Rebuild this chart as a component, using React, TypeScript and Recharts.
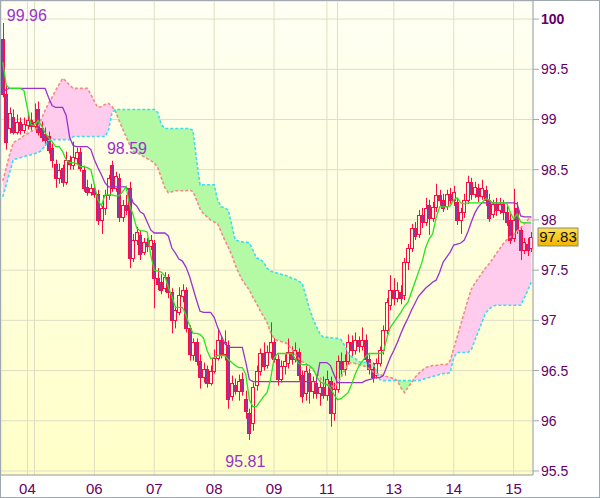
import { ComposedChart, Bar, Line, Area, XAxis, YAxis, CartesianGrid, ReferenceLine, ReferenceDot } from 'recharts';

// open, high, low, close per bar
const candles: number[][] = [
  [99.80, 99.96, 99.22, 99.25], [99.25, 99.35, 98.70, 98.78], [98.92, 99.12, 98.86, 99.06], [99.02, 99.10, 98.85, 98.88], [98.88, 99.05, 98.85, 98.98],
  [98.98, 99.02, 98.85, 98.90], [98.90, 99.02, 98.86, 98.96], [98.95, 99.06, 98.90, 99.00], [99.00, 99.07, 98.88, 98.94], [98.94, 99.16, 98.90, 98.98],
  [99.10, 99.18, 98.84, 98.88], [98.92, 98.98, 98.78, 98.83], [98.86, 98.92, 98.74, 98.80], [98.84, 98.88, 98.66, 98.70], [98.72, 98.76, 98.52, 98.60],
  [98.56, 98.60, 98.32, 98.42], [98.42, 98.56, 98.36, 98.50], [98.52, 98.55, 98.33, 98.38], [98.38, 98.68, 98.35, 98.60], [98.60, 98.64, 98.50, 98.56],
  [98.55, 98.78, 98.50, 98.63], [98.62, 98.72, 98.55, 98.68], [98.68, 98.72, 98.48, 98.52], [98.50, 98.54, 98.28, 98.32], [98.33, 98.40, 98.24, 98.28],
  [98.28, 98.36, 98.24, 98.32], [98.32, 98.35, 98.22, 98.26], [98.26, 98.30, 97.95, 98.00], [98.00, 98.14, 97.86, 98.12], [98.12, 98.30, 98.05, 98.25],
  [98.25, 98.45, 98.20, 98.42], [98.55, 98.59, 98.28, 98.32], [98.32, 98.48, 98.28, 98.44], [98.42, 98.46, 97.98, 98.03], [98.03, 98.20, 97.98, 98.15],
  [98.15, 98.25, 98.05, 98.10], [98.32, 98.38, 97.52, 97.62], [97.62, 97.86, 97.58, 97.80], [97.80, 97.93, 97.75, 97.88], [97.85, 97.90, 97.60, 97.66],
  [97.68, 97.82, 97.65, 97.78], [97.78, 97.82, 97.68, 97.74], [97.74, 97.85, 97.70, 97.80], [97.77, 97.80, 97.12, 97.42], [97.42, 97.52, 97.30, 97.36],
  [97.38, 97.46, 97.26, 97.30], [97.32, 97.48, 97.28, 97.43], [97.43, 97.46, 97.22, 97.28], [97.28, 97.32, 96.87, 97.00], [97.00, 97.14, 96.92, 97.10],
  [97.08, 97.33, 97.05, 97.25], [97.24, 97.36, 97.18, 97.30], [97.30, 97.33, 96.88, 96.92], [96.92, 96.95, 96.60, 96.66], [96.65, 96.82, 96.60, 96.78],
  [96.78, 96.82, 96.55, 96.60], [96.60, 96.66, 96.32, 96.44], [96.44, 96.58, 96.38, 96.52], [96.52, 96.55, 96.33, 96.38], [96.38, 96.55, 96.35, 96.50],
  [96.50, 96.71, 96.47, 96.63], [96.63, 96.92, 96.60, 96.80], [96.80, 96.84, 96.62, 96.66], [96.66, 96.90, 96.60, 96.78], [96.75, 96.80, 96.12, 96.22],
  [96.25, 96.45, 96.20, 96.38], [96.36, 96.42, 96.26, 96.30], [96.30, 96.46, 96.20, 96.40], [96.42, 96.48, 96.25, 96.30], [96.22, 96.30, 96.02, 96.10],
  [96.08, 96.12, 95.81, 95.88], [95.98, 96.38, 95.90, 96.34], [96.36, 96.55, 96.30, 96.50], [96.50, 96.72, 96.45, 96.67], [96.67, 96.78, 96.50, 96.55],
  [96.56, 96.75, 96.52, 96.68], [96.68, 96.98, 96.62, 96.78], [96.78, 96.82, 96.58, 96.62], [96.62, 96.66, 96.35, 96.42], [96.42, 96.60, 96.38, 96.55],
  [96.55, 96.66, 96.46, 96.60], [96.58, 96.82, 96.52, 96.68], [96.68, 96.74, 96.56, 96.62], [96.62, 96.78, 96.58, 96.70], [96.68, 96.72, 96.40, 96.46],
  [96.46, 96.50, 96.18, 96.25], [96.28, 96.55, 96.20, 96.50], [96.48, 96.52, 96.17, 96.30], [96.30, 96.44, 96.22, 96.40], [96.38, 96.46, 96.22, 96.28],
  [96.28, 96.40, 96.15, 96.34], [96.34, 96.44, 96.22, 96.26], [96.26, 96.50, 96.20, 96.42], [96.40, 96.44, 95.94, 96.08], [96.08, 96.38, 96.00, 96.32],
  [96.32, 96.65, 96.28, 96.60], [96.60, 96.68, 96.46, 96.52], [96.52, 96.66, 96.45, 96.60], [96.60, 96.86, 96.56, 96.78], [96.78, 96.85, 96.64, 96.70],
  [96.70, 96.88, 96.66, 96.80], [96.80, 96.84, 96.68, 96.74], [96.74, 96.93, 96.70, 96.80], [96.80, 96.86, 96.58, 96.62], [96.62, 96.66, 96.46, 96.52],
  [96.52, 96.58, 96.38, 96.44], [96.46, 96.62, 96.42, 96.58], [96.58, 96.74, 96.54, 96.70], [96.70, 96.95, 96.66, 96.90], [96.90, 97.22, 96.86, 97.18],
  [97.15, 97.45, 97.10, 97.30], [97.30, 97.42, 97.15, 97.22], [97.22, 97.38, 97.18, 97.30], [97.28, 97.35, 97.16, 97.22], [97.25, 97.62, 97.20, 97.58],
  [97.58, 97.76, 97.50, 97.72], [97.72, 97.96, 97.68, 97.92], [97.92, 97.98, 97.80, 97.84], [97.86, 98.10, 97.82, 98.05], [98.05, 98.12, 97.92, 97.98],
  [97.98, 98.22, 97.94, 98.12], [98.15, 98.20, 97.85, 98.02], [98.02, 98.18, 97.98, 98.13], [98.13, 98.36, 98.08, 98.25], [98.25, 98.30, 98.14, 98.20],
  [98.20, 98.26, 98.08, 98.12], [98.14, 98.30, 98.10, 98.26], [98.26, 98.32, 98.16, 98.20], [98.20, 98.34, 98.14, 98.28], [98.18, 98.22, 97.95, 98.00],
  [98.00, 98.12, 97.86, 98.08], [98.08, 98.26, 98.02, 98.20], [98.20, 98.44, 98.16, 98.38], [98.38, 98.42, 98.20, 98.26], [98.26, 98.38, 98.22, 98.33],
  [98.32, 98.36, 98.18, 98.24], [98.24, 98.40, 98.20, 98.32], [98.30, 98.34, 98.14, 98.20], [98.20, 98.26, 97.98, 98.02], [98.06, 98.20, 98.02, 98.16],
  [98.16, 98.22, 98.04, 98.10], [98.10, 98.22, 98.06, 98.16], [98.16, 98.20, 98.00, 98.08], [98.08, 98.14, 97.94, 97.98], [98.00, 98.06, 97.76, 97.80],
  [97.82, 98.31, 97.78, 98.00], [98.12, 98.18, 97.86, 97.90], [97.90, 97.94, 97.60, 97.70], [97.70, 97.82, 97.66, 97.78], [97.76, 97.82, 97.64, 97.70],
  [97.72, 97.88, 97.68, 97.83],
];

const tenkan = [
  99.57, 99.34, 99.31, 99.31, 99.31, 99.31, 99.29, 99.11, 98.95, 98.94,
  98.99, 98.94, 98.87, 98.82, 98.78, 98.73, 98.73, 98.68, 98.60, 98.57,
  98.57, 98.56, 98.53, 98.53, 98.52, 98.50, 98.35, 98.20, 98.14, 98.25,
  98.25, 98.25, 98.24, 98.24, 98.28, 98.33, 98.15, 98.05, 97.92, 97.89,
  97.89, 97.88, 97.65, 97.50, 97.49, 97.48, 97.44, 97.33, 97.24, 97.13,
  97.13, 97.13, 97.05, 96.95, 96.87, 96.87, 96.86, 96.82, 96.70, 96.62,
  96.63, 96.65, 96.65, 96.65, 96.61, 96.58, 96.55, 96.53, 96.53, 96.46,
  96.21, 96.14, 96.14, 96.19, 96.24, 96.28, 96.41, 96.62, 96.67, 96.67,
  96.67, 96.67, 96.67, 96.62, 96.57, 96.56, 96.56, 96.55, 96.52, 96.45,
  96.39, 96.37, 96.36, 96.33, 96.26, 96.21, 96.22, 96.25, 96.28, 96.36,
  96.46, 96.54, 96.59, 96.64, 96.67, 96.67, 96.67, 96.67, 96.68, 96.82,
  96.93, 96.98, 97.03, 97.08, 97.14, 97.18, 97.28, 97.38, 97.48, 97.58,
  97.72, 97.81, 97.86, 98.02, 98.13, 98.13, 98.13, 98.14, 98.20, 98.22,
  98.17, 98.16, 98.17, 98.17, 98.17, 98.17, 98.17, 98.21, 98.20, 98.17,
  98.17, 98.17, 98.17, 98.17, 98.08, 98.01, 98.06, 97.98, 97.97, 97.97,
  97.97,
];

const kijun = [
  99.26, 99.30, 99.31, 99.31, 99.31, 99.31, 99.31, 99.31, 99.31, 99.31,
  99.31, 99.31, 99.31, 99.22, 99.14, 99.12, 99.12, 99.12, 99.04, 98.82,
  98.74, 98.73, 98.73, 98.73, 98.73, 98.70, 98.60, 98.52, 98.45, 98.37,
  98.33, 98.33, 98.33, 98.33, 98.33, 98.33, 98.28, 98.17, 98.14, 98.08,
  98.06, 97.98, 97.90, 97.87, 97.87, 97.87, 97.87, 97.84, 97.72, 97.67,
  97.61, 97.59, 97.53, 97.44, 97.32, 97.20, 97.09, 97.08, 97.08, 97.08,
  97.03, 96.93, 96.85, 96.77, 96.73, 96.73, 96.73, 96.73, 96.73, 96.58,
  96.41, 96.39, 96.39, 96.39, 96.39, 96.39, 96.39, 96.39, 96.39, 96.39,
  96.39, 96.39, 96.39, 96.39, 96.39, 96.39, 96.39, 96.39, 96.39, 96.39,
  96.58, 96.58, 96.58, 96.55, 96.46, 96.38, 96.38, 96.38, 96.38, 96.38,
  96.38, 96.38, 96.38, 96.40, 96.41, 96.42, 96.43, 96.43, 96.45, 96.54,
  96.63, 96.70, 96.78, 96.87, 96.95, 97.02, 97.10, 97.17, 97.24, 97.28,
  97.32, 97.35, 97.38, 97.40, 97.48, 97.58, 97.63, 97.68, 97.75, 97.76,
  97.77, 97.80, 97.88, 97.98, 98.07, 98.13, 98.17, 98.17, 98.17, 98.17,
  98.17, 98.17, 98.17, 98.17, 98.17, 98.17, 98.16, 98.04, 98.03, 98.03,
  98.03,
];

const spanA = [
  98.39, 98.52, 98.66, 98.77, 98.79, 98.81, 98.84, 98.86, 98.88, 98.90,
  98.92, 99.01, 99.09, 99.16, 99.22, 99.29, 99.35, 99.41, 99.38, 99.34,
  99.31, 99.31, 99.31, 99.31, 99.31, 99.25, 99.18, 99.12, 99.13, 99.15,
  99.16, 99.13, 99.08, 98.99, 98.91, 98.83, 98.75, 98.68, 98.67, 98.65,
  98.63, 98.61, 98.59, 98.57, 98.52, 98.42, 98.32, 98.27, 98.28, 98.29,
  98.29, 98.29, 98.29, 98.30, 98.28, 98.20, 98.11, 98.06, 98.03, 98.00,
  97.98, 97.96, 97.88, 97.80, 97.73, 97.65, 97.55, 97.47, 97.40, 97.35,
  97.30, 97.23, 97.17, 97.10, 97.04, 96.98, 96.88, 96.82, 96.80, 96.79,
  96.78, 96.76, 96.71, 96.66, 96.62, 96.59, 96.57, 96.54, 96.51, 96.47,
  96.43, 96.38, 96.36, 96.35, 96.34, 96.37, 96.43, 96.50, 96.56, 96.58,
  96.57, 96.56, 96.55, 96.54, 96.52, 96.49, 96.47, 96.46, 96.45, 96.44,
  96.43, 96.42, 96.40, 96.33, 96.28, 96.33, 96.38, 96.43, 96.47, 96.50,
  96.53, 96.54, 96.55, 96.55, 96.56, 96.56, 96.56, 96.60, 96.72, 96.84,
  96.96, 97.08, 97.20, 97.31, 97.37, 97.42, 97.47, 97.52, 97.56, 97.61,
  97.66, 97.71, 97.76, 97.80, 97.83, 97.85, 97.89, 97.92, 97.96, 98.00,
  98.03,
];

const spanB = [
  98.23, 98.35, 98.48, 98.60, 98.61, 98.62, 98.63, 98.64, 98.65, 98.66,
  98.67, 98.69, 98.74, 98.79, 98.80, 98.80, 98.80, 98.80, 98.80, 98.80,
  98.83, 98.83, 98.83, 98.83, 98.83, 98.83, 98.83, 98.83, 98.83, 98.83,
  98.89, 99.07, 99.10, 99.10, 99.10, 99.10, 99.10, 99.10, 99.10, 99.10,
  99.10, 99.10, 99.10, 99.10, 99.07, 98.95, 98.91, 98.91, 98.91, 98.91,
  98.91, 98.91, 98.91, 98.91, 98.89, 98.60, 98.35, 98.35, 98.35, 98.35,
  98.35, 98.20, 98.13, 98.12, 98.10, 97.95, 97.80, 97.79, 97.78, 97.78,
  97.77, 97.70, 97.62, 97.61, 97.58, 97.52, 97.49, 97.48, 97.47, 97.46,
  97.45, 97.44, 97.42, 97.41, 97.39, 97.37, 97.25, 97.12, 97.02, 96.94,
  96.87, 96.83, 96.83, 96.83, 96.82, 96.82, 96.81, 96.75, 96.68, 96.64,
  96.62, 96.59, 96.58, 96.58, 96.57, 96.57, 96.50, 96.41, 96.40, 96.40,
  96.40, 96.40, 96.40, 96.40, 96.40, 96.40, 96.40, 96.40, 96.40, 96.41,
  96.42, 96.43, 96.44, 96.45, 96.46, 96.47, 96.47, 96.48, 96.63, 96.68,
  96.68, 96.68, 96.68, 96.71, 96.80, 96.89, 96.98, 97.07, 97.11, 97.14,
  97.15, 97.15, 97.15, 97.15, 97.15, 97.15, 97.15, 97.15, 97.22, 97.30,
  97.38,
];

const dayTicks = [7, 9, 26, 43, 60, 77, 92, 95, 111, 128, 145];
const dayLabels: { [k: number]: string } = { 7: '04', 26: '06', 43: '07', 60: '08', 77: '09', 92: '11', 111: '13', 128: '14', 145: '15' };
const priceTicks = [95.5, 96, 96.5, 97, 97.5, 98, 98.5, 99, 99.5, 100];
const lastPrice = 97.83;
const highMark = { i: 0, v: 99.96 };
const midMark = { i: 31, v: 98.59 };
const lowMark = { i: 70, v: 95.81 };

const data = candles.map(([o, h, l, c], i) => ({
  i, o, h, l, c,
  range: [l, h],
  tenkan: tenkan[i],
  kijun: kijun[i],
  a: spanA[i],
  b: spanB[i],
  pink: [spanB[i], Math.max(spanA[i], spanB[i])],
  green: [spanA[i], Math.max(spanA[i], spanB[i])],
}));

const FONT = '"Liberation Sans", Arial, sans-serif';
const RED = '#ff0a42';
const BEAR = '#8a3aa0';
const AXIS = '#a0a8b0';

const Candle = (props: any) => {
  const { x, y, width, height, payload } = props;
  if (height == null || !payload) return null;
  const { o, h, l, c } = payload;
  const k = h === l ? 0 : height / (h - l);
  // snap to the pixel grid so the thin outlines stay sharp
  const p = Math.round(x + width / 2);
  const yo = y + (h - o) * k;
  const yc = y + (h - c) * k;
  const top = Math.round(Math.min(yo, yc)) + 0.5;
  const bot = Math.max(Math.round(Math.max(yo, yc)) + 0.5, top + 1);
  return (
    <g>
      <line x1={p + 0.5} x2={p + 0.5} y1={y} y2={top} stroke={RED} />
      <line x1={p + 0.5} x2={p + 0.5} y1={bot} y2={y + height} stroke={RED} />
      <rect x={p - 1.5} y={top} width={3} height={bot - top} fill={c < o ? BEAR : 'none'} stroke={RED} />
    </g>
  );
};

const PriceTick = (props: any) => {
  const { x, y, payload } = props;
  const v = payload.value;
  return (
    <text x={x} y={y} dy="0.355em" textAnchor="start" fill="#660066" fontSize={14} fontFamily={FONT} fontWeight={v === 100 ? 'bold' : 'normal'}>
      {String(v)}
    </text>
  );
};

const MarkLabel = (props: any) => {
  const { viewBox, dx, dy, anchor, text } = props;
  if (!viewBox) return null;
  const cx = viewBox.x + (viewBox.width || 0) / 2;
  const cy = viewBox.y + (viewBox.height || 0) / 2;
  return (
    <text x={cx + dx} y={cy + dy} textAnchor={anchor} fill="#9933cc" fontSize={16} fontFamily={FONT}>
      {text}
    </text>
  );
};

const PriceTag = (props: any) => {
  const { viewBox } = props;
  if (!viewBox) return null;
  const left = viewBox.x + viewBox.width + 5;
  const cy = viewBox.y;
  return (
    <g>
      <rect x={left} y={cy - 9} width={40} height={18} fill="url(#tag)" stroke="#8c8c70" />
      <text x={left + 20} y={cy + 5.5} textAnchor="middle" fill="#111" fontSize={15} fontFamily={FONT}>
        {lastPrice.toFixed(2)}
      </text>
    </g>
  );
};

export default function App() {
  return (
    <div style={{ position: 'relative', width: 600, height: 498, background: '#fff' }}>
      <style>{'body{margin:0}'}</style>
      <ComposedChart width={600} height={498} data={data} margin={{ top: 1, right: 0, left: 1, bottom: 0 }}>
        <defs>
          <linearGradient id="bg" x1="0" y1="0" x2="0" y2="1">
            <stop offset="0" stopColor="#fffff4" />
            <stop offset="1" stopColor="#ffffc8" />
          </linearGradient>
          <linearGradient id="tag" x1="0" y1="0" x2="0" y2="1">
            <stop offset="0" stopColor="#ffe14a" />
            <stop offset="1" stopColor="#f2b400" />
          </linearGradient>
        </defs>
        <CartesianGrid stroke="#dfdec4" fill="url(#bg)" fillOpacity={1} />
        <XAxis
          dataKey="i"
          type="category"
          ticks={dayTicks}
          interval={0}
          tickFormatter={(v: number) => dayLabels[v] ?? ''}
          height={23}
          stroke={AXIS}
          tickLine={false}
          tick={{ fill: '#660066', fontSize: 15, fontFamily: FONT }}
        />
        <YAxis
          orientation="right"
          type="number"
          width={67}
          domain={[95.46, 100.18]}
          ticks={priceTicks}
          allowDataOverflow
          stroke={AXIS}
          tickSize={6}
          tickMargin={2}
          tick={<PriceTick />}
        />
        <Area dataKey="pink" type="linear" stroke="none" fill="#ffccee" fillOpacity={1} activeDot={false} isAnimationActive={false} />
        <Area dataKey="green" type="linear" stroke="none" fill="#b4f9a4" fillOpacity={1} activeDot={false} isAnimationActive={false} />
        <Line dataKey="a" type="linear" stroke="#f28a86" strokeWidth={1.6} strokeDasharray="3 2" dot={false} activeDot={false} isAnimationActive={false} />
        <Line dataKey="b" type="linear" stroke="#3ddcee" strokeWidth={1.6} strokeDasharray="3 2" dot={false} activeDot={false} isAnimationActive={false} />
        <Bar dataKey="range" shape={(p: any) => <Candle {...p} />} isAnimationActive={false} />
        <Line dataKey="kijun" type="linear" stroke="#9933cc" strokeWidth={1.3} dot={false} activeDot={false} isAnimationActive={false} />
        <Line dataKey="tenkan" type="linear" stroke="#22e422" strokeWidth={1.3} dot={false} activeDot={false} isAnimationActive={false} />
        <ReferenceDot x={highMark.i} y={highMark.v} r={1} fill="none" stroke="none" label={<MarkLabel dx={4} dy={-2} anchor="start" text={highMark.v.toFixed(2)} />} />
        <ReferenceDot x={midMark.i} y={midMark.v} r={1} fill="none" stroke="none" label={<MarkLabel dx={-5} dy={-7} anchor="start" text={midMark.v.toFixed(2)} />} />
        <ReferenceDot x={lowMark.i} y={lowMark.v} r={1} fill="none" stroke="none" label={<MarkLabel dx={-4} dy={27} anchor="middle" text={lowMark.v.toFixed(2)} />} />
        <ReferenceLine y={lastPrice} stroke="none" label={<PriceTag />} />
      </ComposedChart>
      <div style={{ position: 'absolute', left: 0, top: 0, width: 600, height: 498, boxSizing: 'border-box', border: `1px solid ${AXIS}`, pointerEvents: 'none' }} />
    </div>
  );
}
